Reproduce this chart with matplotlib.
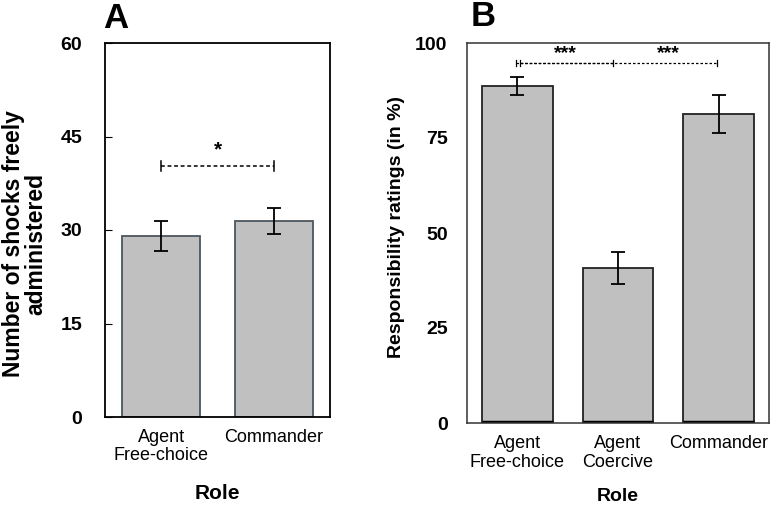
import numpy as np
import matplotlib.pyplot as plt

plt.rcParams['font.family'] = ['Liberation Sans', 'DejaVu Sans']

# Panel A data
roles_a = ['Agent\nFree-choice', 'Commander']
shocks = [29.0, 31.4]
shocks_err = [2.4, 2.1]

# Panel B data
roles_b = ['Agent\nFree-choice', 'Agent\nCoercive', 'Commander']
resp = [88.7, 40.8, 81.3]
resp_err = [2.4, 4.2, 5.0]

fig = plt.figure(figsize=(7.71, 5.05), dpi=100)
W, H = 771, 505

def px_axes(l, t, r, b):
    return fig.add_axes([l / W, 1 - b / H, (r - l) / W, (b - t) / H])

bar_face = '#c0c0c0'

# ---- Panel A ----
ax1 = px_axes(105, 43, 330, 417)
x1 = np.arange(len(roles_a))
ax1.bar(x1, shocks, width=0.69, color=bar_face, edgecolor='#4d565e', linewidth=1.3)
ax1.errorbar(x1, shocks, yerr=shocks_err, fmt='none', ecolor='black',
             elinewidth=1.3, capsize=5, capthick=1.3)
ax1.set_xlim(-0.5, 1.5)
ax1.set_ylim(0, 60)
ax1.set_yticks([0, 15, 30, 45, 60])
ax1.set_xticks(x1)
ax1.set_xticklabels(roles_a, fontsize=13, linespacing=1.05)
ax1.tick_params(axis='y', direction='in', length=5, labelsize=14, pad=16.5)
ax1.tick_params(axis='x', length=0, pad=9)
for lab in ax1.get_yticklabels():
    lab.set_fontweight('bold')
ax1.set_ylabel('Number of shocks freely\nadministered', fontsize=16.5,
               fontweight='bold', linespacing=0.95)
ax1.yaxis.set_label_coords(-0.258, 0.463)
ax1.set_xlabel('Role', fontsize=15, fontweight='bold')
ax1.xaxis.set_label_coords(0.5, -0.18)
for s in ax1.spines.values():
    s.set_linewidth(1.3)
# significance bracket
ax1.plot([0, 1], [40.3, 40.3], ls=(0, (2.5, 1.8)), color='black', lw=1.1)
ax1.plot([0, 0], [39.5, 41.1], color='black', lw=1.1)
ax1.plot([1, 1], [39.5, 41.1], color='black', lw=1.1)
ax1.text(0.5, 41.3, '*', ha='center', va='bottom', fontsize=15, fontweight='bold')
fig.text(103 / W, 1 - 19 / H, 'A', fontsize=25, fontweight='bold', va='center')

# ---- Panel B ----
ax2 = px_axes(467, 43, 769, 423)
x2 = np.arange(len(roles_b))
ax2.bar(x2, resp, width=0.7, color=bar_face, edgecolor='#222222', linewidth=1.3)
for x in x2:
    ax2.plot([x - 0.35, x + 0.35], [0.3, 0.3], color='black', lw=2.5, solid_capstyle='butt')
ax2.errorbar(x2, resp, yerr=resp_err, fmt='none', ecolor='black',
             elinewidth=1.3, capsize=5, capthick=1.3)
ax2.set_xlim(-0.5, 2.5)
ax2.set_ylim(0, 100)
ax2.set_yticks([0, 25, 50, 75, 100])
ax2.set_xticks(x2)
ax2.set_xticklabels(roles_b, fontsize=13, linespacing=1.1)
ax2.tick_params(axis='y', length=0, labelsize=14, pad=14)
ax2.tick_params(axis='x', length=0, pad=9)
for lab in ax2.get_yticklabels():
    lab.set_fontweight('bold')
ax2.set_ylabel('Responsibility ratings (in %)', fontsize=14, fontweight='bold')
ax2.yaxis.set_label_coords(-0.205, 0.516)
ax2.set_xlabel('Role', fontsize=14, fontweight='bold')
ax2.xaxis.set_label_coords(0.5, -0.17)
for s in ax2.spines.values():
    s.set_linewidth(1.1)
    s.set_color('#333333')
for a, b in [(-0.015, 0.955), (0.025, 1.985)]:
    ax2.plot([a, b], [94.7, 94.7], ls=(0, (2, 1.6)), color='black', lw=0.9)
    ax2.plot([a, a], [94.0, 95.4], color='black', lw=0.9)
    ax2.plot([b, b], [94.0, 95.4], color='black', lw=0.9)
ax2.text(0.48, 95.0, '***', ha='center', va='bottom', fontsize=14, fontweight='bold')
ax2.text(1.5, 95.0, '***', ha='center', va='bottom', fontsize=14, fontweight='bold')
fig.text(471 / W, 1 - 16 / H, 'B', fontsize=25, fontweight='bold', va='center')

fig.savefig('out.png', dpi=100)
